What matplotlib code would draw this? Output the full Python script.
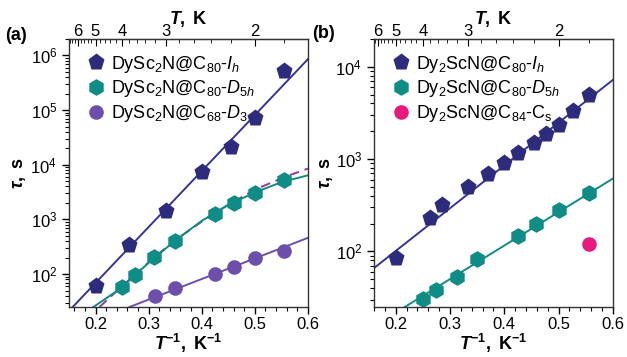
import numpy as np
import matplotlib
matplotlib.use("Agg")
import matplotlib.pyplot as plt
from matplotlib.ticker import FixedLocator, MultipleLocator, NullFormatter, LogLocator

plt.rcParams['font.family'] = ['Liberation Sans', 'DejaVu Sans']
plt.rcParams['mathtext.fontset'] = 'custom'
plt.rcParams['mathtext.rm'] = 'Liberation Sans'
plt.rcParams['mathtext.it'] = 'Liberation Sans:italic'
plt.rcParams['mathtext.bf'] = 'Liberation Sans:bold'
plt.rcParams['mathtext.bfit'] = 'Liberation Sans:italic:bold'

# colours
navy = '#2d2b7c'
navy_line = '#363399'
teal = '#0f8c86'
purple = '#6c4fab'
dash_col = '#933a92'
pink = '#e8197e'

# ---- panel (a) data: tau (s) vs 1/T (1/K) ----
a_Ih_x = [0.2, 0.263, 0.333, 0.4, 0.455, 0.5, 0.556]
a_Ih_y = [61, 340, 1450, 7500, 21000, 71000, 510000]
a_D5h_x = [0.25, 0.274, 0.311, 0.349, 0.426, 0.46, 0.5, 0.556]
a_D5h_y = [57, 96, 205, 400, 1270, 2000, 3100, 5200]
a_D3_x = [0.312, 0.349, 0.426, 0.46, 0.5, 0.556]
a_D3_y = [40, 55, 99, 136, 198, 265]

# fit curves
a_Ih_fit_x = [0.157, 0.6]
a_Ih_fit_y = [25, 8.5e5]
a_D5h_fit_x = [0.196, 0.25, 0.275, 0.3, 0.35, 0.4, 0.45, 0.5, 0.55, 0.6]
a_D5h_fit_y = [25, 57, 97, 160, 410, 940, 1850, 3100, 4800, 6400]
a_D5h_dash_x = [0.2075, 0.25, 0.311, 0.35, 0.4, 0.45, 0.5, 0.557, 0.6]
a_D5h_dash_y = [25, 60, 205, 415, 910, 1850, 3500, 6000, 8500]
a_D3_fit_x = [0.264, 0.6]
a_D3_fit_y = [25, 460]

# ---- panel (b) data ----
b_Ih_x = [0.2, 0.263, 0.286, 0.333, 0.37, 0.4, 0.4255, 0.455, 0.476, 0.5, 0.526, 0.556]
b_Ih_y = [85, 230, 316, 493, 690, 910, 1150, 1480, 1880, 2340, 3300, 5000]
b_D5h_x = [0.25, 0.274, 0.313, 0.349, 0.4255, 0.459, 0.5, 0.556]
b_D5h_y = [30.6, 38, 53.5, 82, 147, 200, 283, 424]
b_Cs_x = [0.556]
b_Cs_y = [121]

b_Ih_fit_x = [0.16, 0.6]
b_Ih_fit_y = [66, 7200]
b_D5h_fit_x = [0.2166, 0.6]
b_D5h_fit_y = [25, 615]

T_major = [2, 3, 4, 5, 6]

fig = plt.figure(figsize=(6.27, 3.57), dpi=100)
ax1 = fig.add_axes([0.110, 0.140, 0.381, 0.751])
ax2 = fig.add_axes([0.5965, 0.140, 0.381, 0.751])

ms_p = 12.5
ms_h = 12
ms_o = 10.5

# panel a
ax1.plot(a_Ih_fit_x, a_Ih_fit_y, color=navy_line, lw=1.4)
ax1.plot(a_D5h_dash_x, a_D5h_dash_y, color=dash_col, lw=1.4, ls=(0, (5, 3)))
ax1.plot(a_D5h_fit_x, a_D5h_fit_y, color=teal, lw=1.4)
ax1.plot(a_D3_fit_x, a_D3_fit_y, color=purple, lw=1.4)
ax1.plot(a_Ih_x, a_Ih_y, 'p', color=navy, ms=ms_p, mec='none', label=r'DySc$_2$N@C$_{80}$-$I_h$')
ax1.plot(a_D5h_x, a_D5h_y, 'h', color=teal, ms=ms_h, mec='none', label=r'DySc$_2$N@C$_{80}$-$D_{5h}$')
ax1.plot(a_D3_x, a_D3_y, 'o', color=purple, ms=ms_o, mec='none', label=r'DySc$_2$N@C$_{68}$-$D_3$')
ax1.set_xlim(0.15, 0.6)
ax1.set_ylim(25, 2e6)

# panel b
ax2.plot(b_Ih_fit_x, b_Ih_fit_y, color=navy_line, lw=1.4)
ax2.plot(b_D5h_fit_x, b_D5h_fit_y, color=teal, lw=1.4)
ax2.plot(b_Ih_x, b_Ih_y, 'p', color=navy, ms=ms_p, mec='none', label=r'Dy$_2$ScN@C$_{80}$-$I_h$')
ax2.plot(b_D5h_x, b_D5h_y, 'h', color=teal, ms=ms_h, mec='none', label=r'Dy$_2$ScN@C$_{80}$-$D_{5h}$')
ax2.plot(b_Cs_x, b_Cs_y, 'o', color=pink, ms=ms_o, mec='none', label=r'Dy$_2$ScN@C$_{84}$-C$_\mathrm{s}$')
ax2.set_xlim(0.16, 0.6)
ax2.set_ylim(25, 2e4)

for ax, ylab_x in [(ax1, -0.17), (ax2, -0.165)]:
    ax.set_yscale('log')
    ax.yaxis.set_major_locator(LogLocator(base=10))
    ax.yaxis.set_minor_locator(LogLocator(base=10, subs=np.arange(2, 10)))
    ax.yaxis.set_minor_formatter(NullFormatter())
    ax.xaxis.set_major_locator(MultipleLocator(0.1))
    ax.xaxis.set_minor_locator(MultipleLocator(0.02))
    ax.tick_params(which='both', direction='out', labelsize=12, top=False, right=False)
    ax.tick_params(which='major', length=5, width=1)
    ax.tick_params(which='minor', length=3, width=0.8)
    ax.tick_params(axis='x', pad=2)
    ax.set_xticks([0.2, 0.3, 0.4, 0.5, 0.6])
    ax.set_xticklabels(['0.2', '0.3', '0.4', '0.5', '0.6'])
    for s in ax.spines.values():
        s.set_linewidth(1.0)
        s.set_color('#333333')
    ax.set_xlabel(r'$\mathbfit{T}^{\mathbf{-1}}\mathbf{,\ K}^{\mathbf{-1}}$', fontsize=13)
    ax.xaxis.set_label_coords(0.5, -0.092)
    ax.set_ylabel(r'$\mathbfit{\tau}\mathbf{,\ s}$', fontsize=13)
    ax.yaxis.set_label_coords(ylab_x, 0.5)

    sec = ax.secondary_xaxis('top', functions=(lambda x: 1 / x, lambda x: 1 / x))
    sec.xaxis.set_major_locator(FixedLocator(T_major))
    sec.xaxis.set_minor_locator(FixedLocator([t for t in np.arange(1.8, 6.7, 0.2)
                                              if min(abs(t - m) for m in T_major) > 0.05]))
    sec.xaxis.set_minor_formatter(NullFormatter())
    sec.set_xticklabels([str(t) for t in T_major])
    sec.tick_params(which='both', direction='in', labelsize=12, pad=0)
    sec.tick_params(which='major', length=5)
    sec.tick_params(which='minor', length=3)

    pos = ax.get_position()
    fig.text(pos.x0 + pos.width / 2, 0.948, r'$\mathbfit{T}\mathbf{,\ K}$', fontsize=13,
             ha='center', va='center')

    ax.legend(loc='upper left', bbox_to_anchor=(0.03, 0.985), frameon=False,
              fontsize=13, handlelength=1.0, handletextpad=0.35,
              labelspacing=0.2, borderaxespad=0.2, numpoints=1)

fig.text(0.008, 0.90, '(a)', fontsize=13, fontweight='bold', va='center')
fig.text(0.498, 0.905, '(b)', fontsize=13, fontweight='bold', va='center')

fig.savefig('out.png', dpi=100)
